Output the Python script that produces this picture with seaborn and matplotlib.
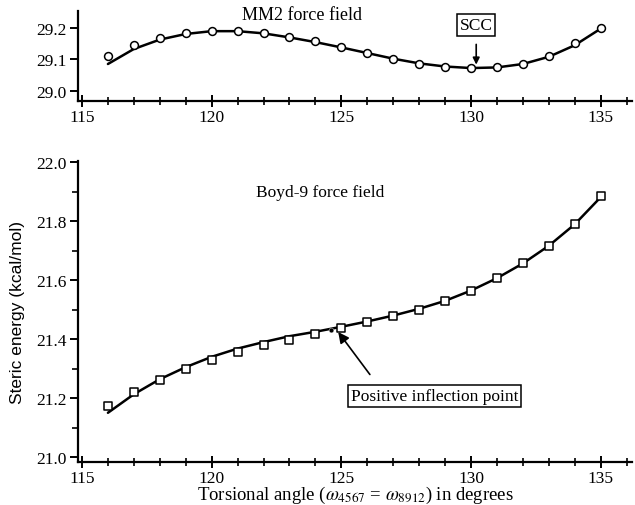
import numpy as np
import pandas as pd
import matplotlib
matplotlib.use("Agg")
import matplotlib.pyplot as plt
from matplotlib.ticker import MultipleLocator
import seaborn as sns

# Datos
angulos = [116, 117, 118, 119, 120, 121, 122, 123, 124, 125,
           126, 127, 128, 129, 130, 131, 132, 133, 134, 135]

# MM2: puntos calculados y curva ajustada
mm2_puntos = [29.112, 29.146, 29.167, 29.184, 29.190, 29.190, 29.183, 29.170, 29.157, 29.139,
              29.120, 29.100, 29.086, 29.076, 29.071, 29.074, 29.086, 29.110, 29.151, 29.200]
mm2_curva = [29.085, 29.133, 29.163, 29.181, 29.190, 29.190, 29.183, 29.170, 29.155, 29.138,
             29.120, 29.102, 29.087, 29.077, 29.072, 29.074, 29.085, 29.108, 29.145, 29.198]

# Boyd-9: puntos calculados y curva ajustada
boyd_puntos = [21.174, 21.221, 21.262, 21.298, 21.329, 21.355, 21.380, 21.398, 21.418, 21.438,
               21.457, 21.477, 21.500, 21.530, 21.564, 21.606, 21.657, 21.716, 21.790, 21.885]
boyd_curva = [21.150, 21.213, 21.264, 21.305, 21.340, 21.368, 21.390, 21.410, 21.425, 21.442,
              21.460, 21.480, 21.503, 21.530, 21.565, 21.607, 21.657, 21.717, 21.790, 21.882]

# Punto de inflexión marcado
inflexion_x = [124.6]
inflexion_y = [21.432]

df_mm2 = pd.DataFrame({"angulo": angulos, "punto": mm2_puntos, "curva": mm2_curva})
df_boyd = pd.DataFrame({"angulo": angulos, "punto": boyd_puntos, "curva": boyd_curva})

sns.set_style("ticks")
plt.rcParams["font.family"] = ["Liberation Serif", "DejaVu Serif"]
plt.rcParams["mathtext.fontset"] = "stix"
plt.rcParams["text.color"] = "black"
plt.rcParams["axes.labelcolor"] = "black"

fig = plt.figure(figsize=(6.35, 5.06), dpi=100)
ax1 = fig.add_axes([0.123, 0.798, 0.872, 0.178])
ax2 = fig.add_axes([0.123, 0.085, 0.872, 0.595])

for ax in (ax1, ax2):
    sns.despine(ax=ax)
    for s in ("left", "bottom"):
        ax.spines[s].set_linewidth(1.6)
        ax.spines[s].set_color("black")
    ax.set_xlim(114.85, 136.2)
    ax.xaxis.set_major_locator(MultipleLocator(5))
    ax.xaxis.set_minor_locator(MultipleLocator(1))
    ax.tick_params(axis="x", which="major", direction="inout", length=9, width=1.4,
                   labelsize=12.5, pad=1, colors="black")
    ax.tick_params(axis="x", which="minor", direction="inout", length=6, width=1.2,
                   colors="black")
    ax.tick_params(axis="y", which="major", direction="out", length=6, width=1.4,
                   labelsize=12.5, pad=2, colors="black")
    ax.tick_params(axis="y", which="minor", direction="out", length=4, width=1.2,
                   colors="black")

# Panel superior: MM2
sns.lineplot(data=df_mm2, x="angulo", y="curva", ax=ax1, color="black", lw=1.8)
sns.scatterplot(data=df_mm2, x="angulo", y="punto", ax=ax1, marker="o", s=32,
                facecolor="white", edgecolor="black", linewidth=1.1, zorder=3)
ax1.set_ylim(28.966, 29.254)
ax1.set_yticks([29.0, 29.1, 29.2])
ax1.set_xlabel("")
ax1.set_ylabel("")
ax1.text(123.5, 29.243, "MM2 force field", ha="center", va="center", fontsize=13)
ax1.annotate("SCC", xy=(130.2, 29.083), xytext=(130.2, 29.21),
             ha="center", va="center", fontsize=12.5,
             bbox=dict(boxstyle="square,pad=0.15", fc="white", ec="black", lw=1.1),
             arrowprops=dict(arrowstyle="-|>", color="black", lw=1.2,
                             shrinkA=6, shrinkB=0, mutation_scale=10))

# Panel inferior: Boyd-9
sns.lineplot(data=df_boyd, x="angulo", y="curva", ax=ax2, color="black", lw=1.8)
sns.scatterplot(data=df_boyd, x="angulo", y="punto", ax=ax2, marker="s", s=38,
                facecolor="white", edgecolor="black", linewidth=1.1, zorder=3)
sns.scatterplot(x=inflexion_x, y=inflexion_y, ax=ax2, color="black", s=12, zorder=4)
ax2.set_ylim(20.983, 22.005)
ax2.yaxis.set_major_locator(MultipleLocator(0.2))
ax2.yaxis.set_minor_locator(MultipleLocator(0.1))
ax2.set_xlabel(r"Torsional angle ($\omega_{4567}$ = $\omega_{8912}$) in degrees",
               fontsize=13.5, labelpad=-1)
ax2.set_ylabel("Steric energy (kcal/mol)", fontsize=12.5, family=["Liberation Sans"],
               labelpad=8)
ax2.text(124.2, 21.898, "Boyd-9 force field", ha="center", va="center", fontsize=12.5)
ax2.text(128.6, 21.207, "Positive inflection point", ha="center", va="center", fontsize=12.5,
         bbox=dict(boxstyle="square,pad=0.15", fc="white", ec="black", lw=1.1))
ax2.annotate("", xy=(124.88, 21.424), xytext=(126.1, 21.28),
             arrowprops=dict(arrowstyle="-|>", color="black", lw=1.2,
                             shrinkA=0, shrinkB=0, mutation_scale=16))

fig.savefig("out.png", dpi=100)
